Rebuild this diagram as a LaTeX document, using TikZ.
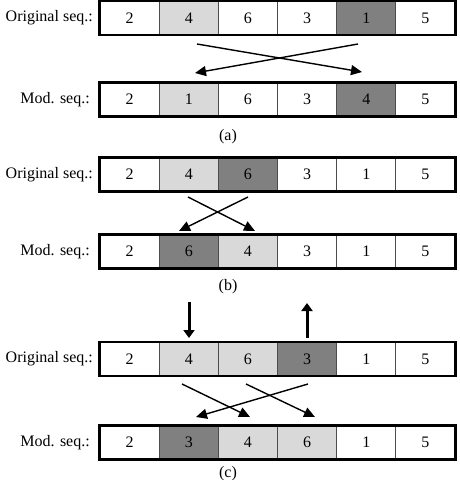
\documentclass[tikz,border=0pt]{standalone}
\usepackage{fontspec}
\setmainfont{Liberation Serif}
\usetikzlibrary{arrows.meta}
\definecolor{lgray}{HTML}{D9D9D9}
\definecolor{dgray}{HTML}{808080}
\begin{document}
\begin{tikzpicture}[x=1pt,y=-1pt,
  every node/.style={font=\fontsize{16}{19}\selectfont, inner sep=0pt},
  cell/.style={draw=black!70, line width=0.8pt, minimum width=59.17pt, minimum height=33pt, anchor=center},
  lg/.style={fill=lgray}, dg/.style={fill=dgray},
  outer/.style={draw=black, line width=2.6pt},
  arr/.style={-{Triangle[length=11pt,width=10pt]}, line width=1.4pt},
  bigarr/.style={-{Triangle[length=8pt,width=11pt]}, line width=3pt},
  lab/.style={anchor=east}]
\useasboundingbox (0,0) rectangle (460,480);
% Row (a) original
\def\ya{18}
\foreach \i/\v/\s in {1/2/,2/4/lg,3/6/,4/3/,5/1/dg,6/5/}
  \node[cell,\s] (ao\i) at ({100+59.17*(\i-0.5)},\ya) {\v};
\draw[outer] (ao1.north west) rectangle (ao6.south east);
\node[lab] (aol) at (93,\ya) {Original seq.:};
% Row (a) modified
\def\yb{99.5}
\foreach \i/\v/\s in {1/2/,2/1/lg,3/6/,4/3/,5/4/dg,6/5/}
  \node[cell,\s] (am\i) at ({100+59.17*(\i-0.5)},\yb) {\v};
\draw[outer] (am1.north west) rectangle (am6.south east);
\node[lab] (aml) at (90,\yb) {Mod. seq.:};
\node (capa) at (228,137) {(a)};
\coordinate (a1s) at (197,44); \coordinate (a1e) at (362,72);
\coordinate (a2s) at (358,44); \coordinate (a2e) at (195,73);
\draw[arr] (a1s) -- (a1e);
\draw[arr] (a2s) -- (a2e);
% Row (b) original
\def\yc{174.5}
\foreach \i/\v/\s in {1/2/,2/4/lg,3/6/dg,4/3/,5/1/,6/5/}
  \node[cell,\s] (bo\i) at ({100+59.17*(\i-0.5)},\yc) {\v};
\draw[outer] (bo1.north west) rectangle (bo6.south east);
\node[lab] (bol) at (93,\yc) {Original seq.:};
% Row (b) modified
\def\yd{251.5}
\foreach \i/\v/\s in {1/2/,2/6/dg,3/4/lg,4/3/,5/1/,6/5/}
  \node[cell,\s] (bm\i) at ({100+59.17*(\i-0.5)},\yd) {\v};
\draw[outer] (bm1.north west) rectangle (bm6.south east);
\node[lab] (bml) at (90,\yd) {Mod. seq.:};
\node (capb) at (228,287) {(b)};
\coordinate (b1s) at (188,197); \coordinate (b1e) at (255,231);
\coordinate (b2s) at (248,197); \coordinate (b2e) at (179,231);
\draw[arr] (b1s) -- (b1e);
\draw[arr] (b2s) -- (b2e);
% Row (c) original
\def\ye{359}
\foreach \i/\v/\s in {1/2/,2/4/lg,3/6/lg,4/3/dg,5/1/,6/5/}
  \node[cell,\s] (co\i) at ({100+59.17*(\i-0.5)},\ye) {\v};
\draw[outer] (co1.north west) rectangle (co6.south east);
\node[lab] (col) at (93,\ye) {Original seq.:};
% Row (c) modified
\def\yf{442.5}
\foreach \i/\v/\s in {1/2/,2/3/dg,3/4/lg,4/6/lg,5/1/,6/5/}
  \node[cell,\s] (cm\i) at ({100+59.17*(\i-0.5)},\yf) {\v};
\draw[outer] (cm1.north west) rectangle (cm6.south east);
\node[lab] (cml) at (90,\yf) {Mod. seq.:};
\node (capc) at (228,474) {(c)};
\coordinate (c1s) at (182,384); \coordinate (c1e) at (250,417);
\coordinate (c2s) at (246,384); \coordinate (c2e) at (315,417);
\coordinate (c3s) at (308,384); \coordinate (c3e) at (196,417);
\draw[arr] (c1s) -- (c1e);
\draw[arr] (c2s) -- (c2e);
\draw[arr] (c3s) -- (c3e);
\coordinate (dvs) at (189,302); \coordinate (dve) at (189,338);
\coordinate (uvs) at (307,338); \coordinate (uve) at (307,303);
\draw[bigarr] (dvs) -- (dve);
\draw[bigarr] (uvs) -- (uve);
\end{tikzpicture}
\end{document}
